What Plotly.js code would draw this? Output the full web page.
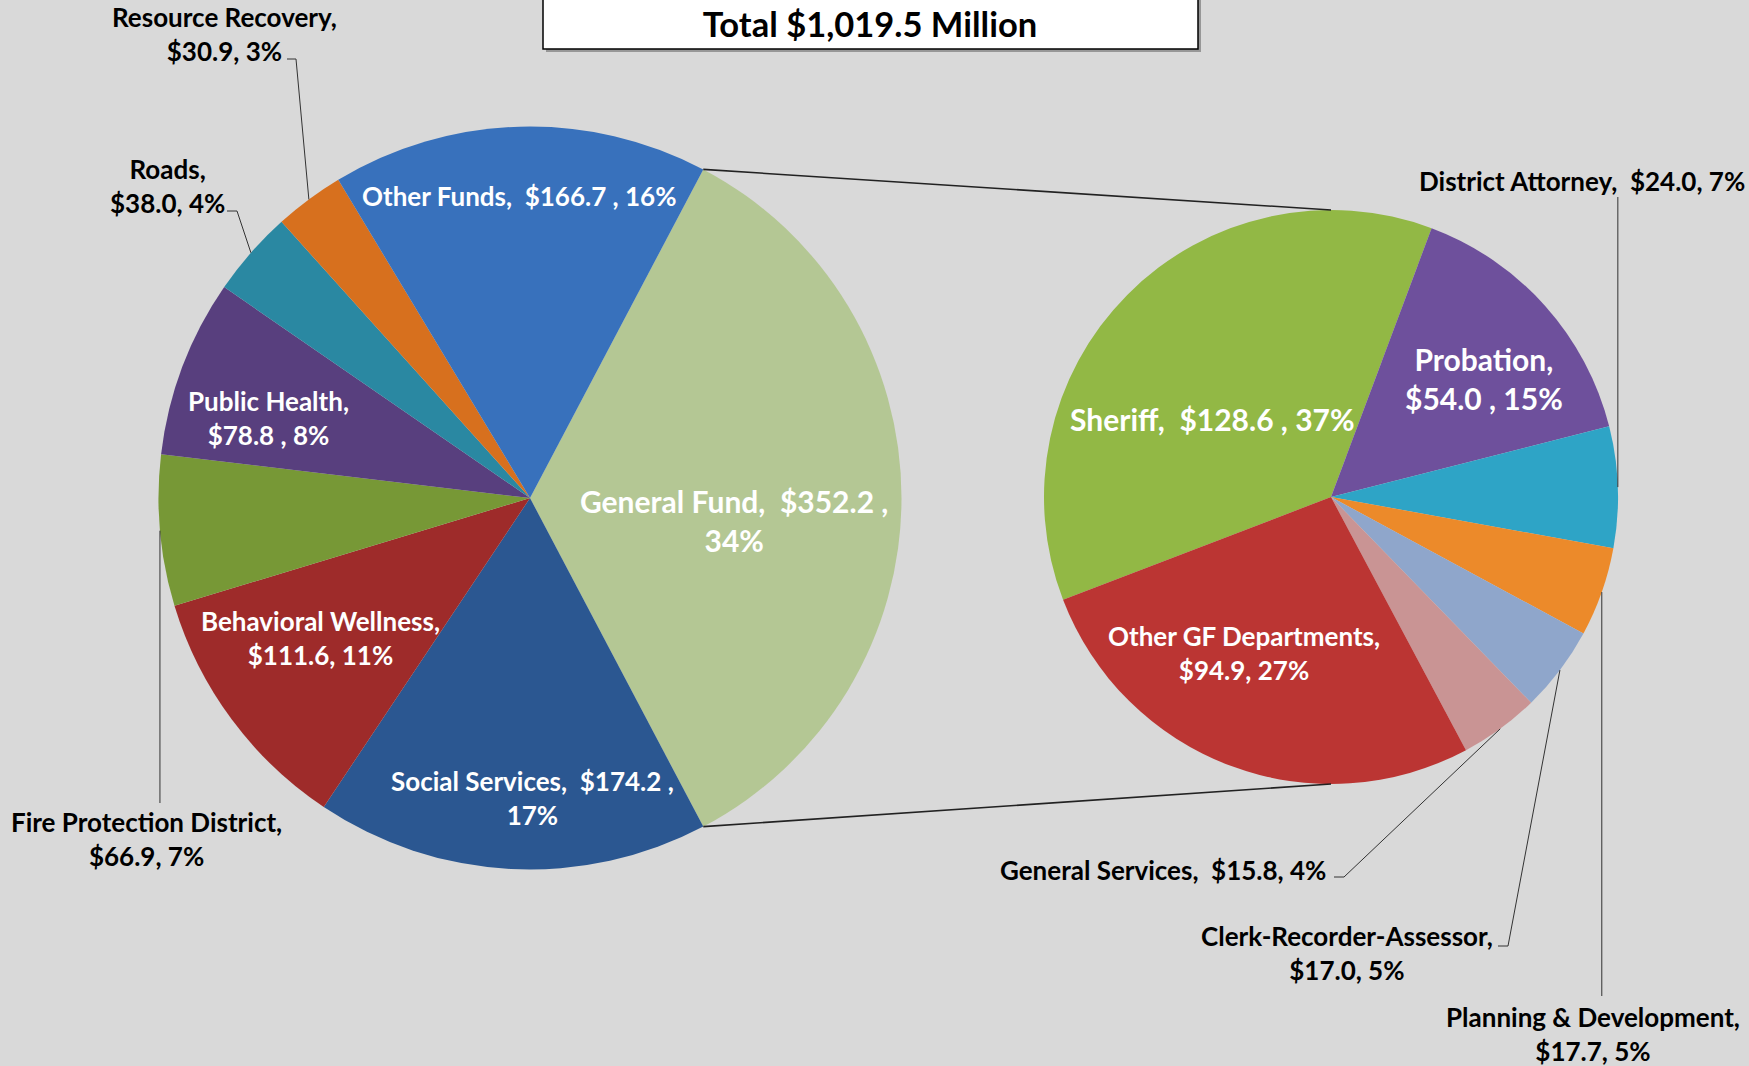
<!DOCTYPE html>
<html>
<head>
<meta charset="utf-8">
<script src="https://cdn.plot.ly/plotly-3.0.1.min.js"></script>
<style>
html,body{margin:0;padding:0;background:#d9d9d9;}
#chart{width:1749px;height:1066px;}
</style>
</head>
<body>
<div id="chart"></div>
<script>
// ---------- DATA ----------
const titleText = 'Total $1,019.5 Million';

// Left pie: all funds ($ millions)
const fundLabels   = ['General Fund', 'Social Services', 'Behavioral Wellness', 'Fire Protection District',
                      'Public Health', 'Roads', 'Resource Recovery', 'Other Funds'];
const fundValues   = [352.2, 174.2, 111.6, 66.9, 78.8, 38.0, 30.9, 166.7];
const fundPercents = [34, 17, 11, 7, 8, 4, 3, 16];

// Right pie: General Fund breakdown ($ millions)
const gfLabels   = ['Sheriff', 'Probation', 'District Attorney', 'Planning & Development',
                    'Clerk-Recorder-Assessor', 'General Services', 'Other GF Departments'];
const gfValues   = [128.6, 54.0, 24.0, 17.7, 17.0, 15.8, 94.9];
const gfPercents = [37, 15, 7, 5, 5, 4, 27];

// ---------- STYLE / LAYOUT ----------
const W = 1749, H = 1066;
const FONT = 'Lato, "Open Sans", "Liberation Sans", sans-serif';
const fundColors = ['#b4c794', '#2b5791', '#9e2b2a', '#779836', '#583f7e', '#2a88a2', '#d7701e', '#3871bc'];
const gfColors   = ['#92b845', '#6e509c', '#2ea4c6', '#ec8a2a', '#8fa6cb', '#c99494', '#bb3533'];

// pie geometry in pixels
const LP = {cx: 530, cy: 498, r: 371.5};
const RP = {cx: 1331, cy: 497, r: 287};
const rightRotation = 249;

// label templates, positions (px) and placement
const fundTpl = ['{L},  {V} ,<br>{P}', '{L},  {V} ,<br>{P}', '{L},<br>{V}, {P}', '{L},<br>{V}, {P}',
                 '{L},<br>{V} , {P}', '{L},<br>{V}, {P}', '{L},<br>{V}, {P}', '{L},  {V} , {P}'];
const fundPos = [[734, 520], [532, 798], [320, 638], [146, 839], [268, 418], [167, 186], [224, 34], [519, 196]];
const fundInside = [true, true, true, false, true, false, false, true];
const fundSize = [30, 26, 26, 26, 26, 26, 26, 26];
const fundLeader = [null, null, null, ['v', 803], null, [[227, 211], [237, 211]], [[287, 59], [296, 59]], null];

const gfTpl = ['{L},  {V} , {P}', '{L},<br>{V} , {P}', '{L},  {V}, {P}', '{L},<br>{V}, {P}',
               '{L},<br>{V}, {P}', '{L},  {V}, {P}', '{L},<br>{V}, {P}'];
const gfPos = [[1212, 419], [1484, 379], [1582, 181], [1593, 1034], [1347, 953], [1163, 870], [1244, 653]];
const gfInside = [true, true, false, false, false, false, true];
const gfSize = [30, 30, 26, 26, 26, 26, 26];
const gfLeader = [null, null, ['v', 197], ['v', 996], [[1498, 946], [1508, 946]], [[1334, 877], [1344, 877]], null];

// ---------- HELPERS ----------
const px = x => x / W;
const py = y => 1 - y / H;
const sum = a => a.reduce((s, v) => s + v, 0);
function domainOf(p) {
  return {x: [px(p.cx - p.r), px(p.cx + p.r)], y: [py(p.cy + p.r), py(p.cy - p.r)]};
}
function pointAt(p, deg) {
  const a = deg * Math.PI / 180;
  return [p.cx + p.r * Math.sin(a), p.cy - p.r * Math.cos(a)];
}
function midAngles(values, rot) {
  const tot = sum(values); let cum = 0;
  return values.map(v => { const m = rot + 360 * (cum + v / 2) / tot; cum += v; return m; });
}
function fmt(tpl, label, value, pct) {
  return tpl.replace('{L}', label).replace('{V}', '$' + value.toFixed(1)).replace('{P}', pct + '%');
}
function seg(a, b, color, width) {
  return {type: 'line', xref: 'paper', yref: 'paper', layer: 'above',
          x0: px(a[0]), y0: py(a[1]), x1: px(b[0]), y1: py(b[1]),
          line: {color: color, width: width}};
}

const fundTotal = sum(fundValues);
const leftRotation = 90 - 180 * fundValues[0] / fundTotal;

const traces = [
  {type: 'pie', labels: fundLabels, values: fundValues, sort: false, direction: 'clockwise',
   rotation: leftRotation, domain: domainOf(LP), textinfo: 'none', hoverinfo: 'none',
   showlegend: false, marker: {colors: fundColors, line: {width: 0}}},
  {type: 'pie', labels: gfLabels, values: gfValues, sort: false, direction: 'clockwise',
   rotation: rightRotation, domain: domainOf(RP), textinfo: 'none', hoverinfo: 'none',
   showlegend: false, marker: {colors: gfColors, line: {width: 0}}}
];

const annotations = [];
const shapes = [];

// title box with shadow
shapes.push({type: 'rect', xref: 'paper', yref: 'paper', layer: 'below',
  x0: px(546), x1: px(1201), y0: py(52), y1: 1.05, fillcolor: 'rgba(0,0,0,0.3)', line: {width: 0}});
shapes.push({type: 'rect', xref: 'paper', yref: 'paper', layer: 'below',
  x0: px(543), x1: px(1198), y0: py(49), y1: 1.05, fillcolor: '#ffffff', line: {color: '#000000', width: 1.5}});

// connector lines between General Fund slice and second pie
const gfStart = pointAt(LP, leftRotation);
const gfEnd = pointAt(LP, leftRotation + 360 * fundValues[0] / fundTotal);
shapes.push(seg(gfStart, [RP.cx, RP.cy - RP.r], '#222222', 1.6));
shapes.push(seg(gfEnd, [RP.cx, RP.cy + RP.r], '#222222', 1.6));

function addLabels(p, labels, values, pcts, tpl, pos, inside, sizes, leaders, rot) {
  const mids = midAngles(values, rot);
  labels.forEach((lab, i) => {
    annotations.push({
      xref: 'paper', yref: 'paper', x: px(pos[i][0]), y: py(pos[i][1]),
      xanchor: 'center', yanchor: 'middle', align: 'center', showarrow: false,
      text: fmt(tpl[i], lab, values[i], pcts[i]),
      font: {family: FONT, size: sizes[i], weight: 700, color: inside[i] ? '#ffffff' : '#000000'}
    });
    const ld = leaders[i];
    if (ld) {
      const anchor = pointAt(p, mids[i]);
      if (ld[0] === 'v') {
        shapes.push(seg(anchor, [anchor[0], ld[1]], '#333333', 1));
      } else {
        shapes.push(seg(ld[0], ld[1], '#333333', 1));
        shapes.push(seg(ld[1], anchor, '#333333', 1));
      }
    }
  });
}
addLabels(LP, fundLabels, fundValues, fundPercents, fundTpl, fundPos, fundInside, fundSize, fundLeader, leftRotation);
addLabels(RP, gfLabels, gfValues, gfPercents, gfTpl, gfPos, gfInside, gfSize, gfLeader, rightRotation);

const layout = {
  width: W, height: H,
  paper_bgcolor: '#d9d9d9', plot_bgcolor: '#d9d9d9',
  margin: {l: 0, r: 0, t: 0, b: 0},
  title: {text: titleText, x: px(870), xanchor: 'center', y: 1 - 24.5 / H, yanchor: 'middle', yref: 'container',
          font: {family: FONT, size: 34.5, weight: 700, color: '#000000'}},
  annotations: annotations,
  shapes: shapes
};

Plotly.newPlot('chart', traces, layout, {displayModeBar: false, staticPlot: true});
</script>
</body>
</html>
